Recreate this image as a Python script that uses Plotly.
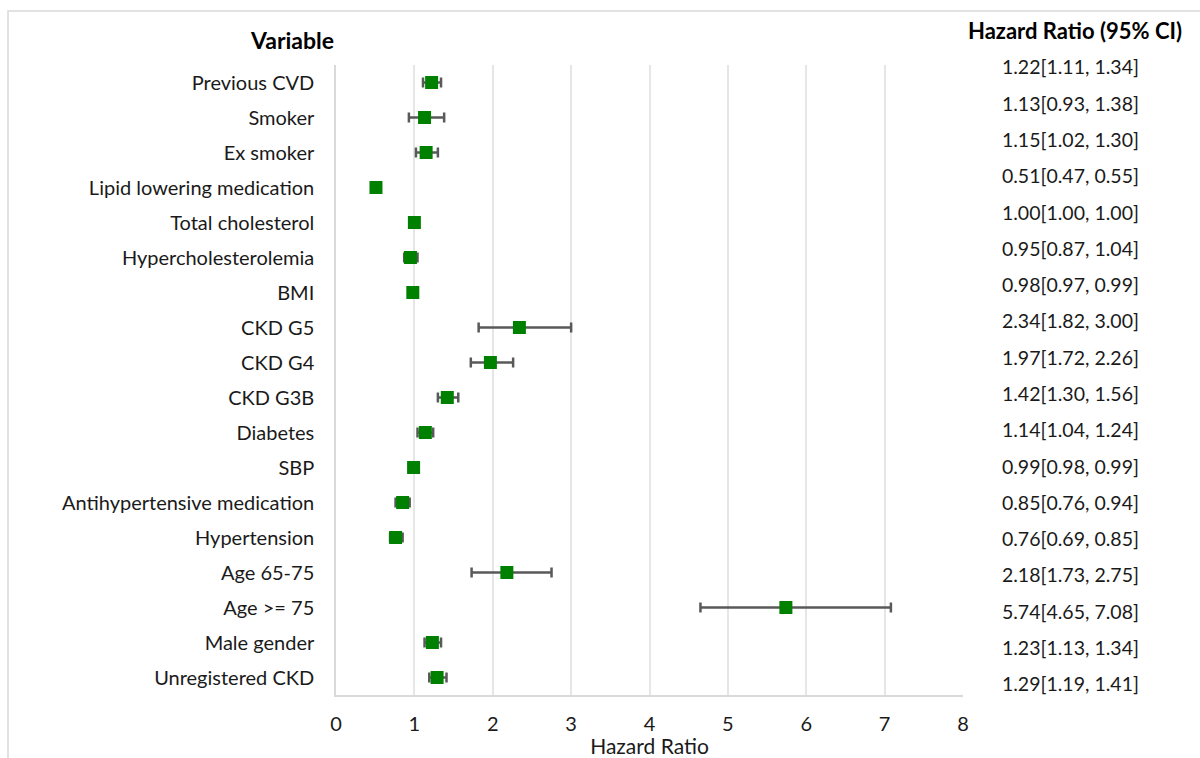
import plotly.graph_objects as go

variables = ["Previous CVD", "Smoker", "Ex smoker", "Lipid lowering medication",
             "Total cholesterol", "Hypercholesterolemia", "BMI", "CKD G5", "CKD G4",
             "CKD G3B", "Diabetes", "SBP", "Antihypertensive medication", "Hypertension",
             "Age 65-75", "Age >= 75", "Male gender", "Unregistered CKD"]
hr = [1.22, 1.13, 1.15, 0.51, 1.00, 0.95, 0.98, 2.34, 1.97, 1.42, 1.14, 0.99,
      0.85, 0.76, 2.18, 5.74, 1.23, 1.29]
ci_low = [1.11, 0.93, 1.02, 0.47, 1.00, 0.87, 0.97, 1.82, 1.72, 1.30, 1.04, 0.98,
          0.76, 0.69, 1.73, 4.65, 1.13, 1.19]
ci_high = [1.34, 1.38, 1.30, 0.55, 1.00, 1.04, 0.99, 3.00, 2.26, 1.56, 1.24, 0.99,
           0.94, 0.85, 2.75, 7.08, 1.34, 1.41]
x_ticks = [0, 1, 2, 3, 4, 5, 6, 7, 8]

FONT = "Lato"
GRID = "#e6e6e6"
AXIS = "#d9d9d9"

labels = [f"{h:.2f}[{l:.2f}, {u:.2f}]" for h, l, u in zip(hr, ci_low, ci_high)]
err_plus = [u - h for h, u in zip(hr, ci_high)]
err_minus = [h - l for h, l in zip(hr, ci_low)]

fig = go.Figure()
fig.add_trace(go.Scatter(
    x=hr, y=variables, mode="markers",
    marker=dict(symbol="square", size=13, color="#008000"),
    error_x=dict(type="data", symmetric=False, array=err_plus, arrayminus=err_minus,
                 color="#595959", thickness=2.5, width=5),
    showlegend=False, xaxis="x", yaxis="y",
))
fig.add_trace(go.Scatter(
    x=[0.5] * len(labels), y=list(range(len(labels))), mode="text", text=labels,
    textposition="middle center", cliponaxis=False,
    textfont=dict(family=FONT, size=19.5, color="#1a1a1a"),
    showlegend=False, xaxis="x2", yaxis="y2", hoverinfo="skip",
))

fig.update_layout(
    template="none",
    width=1200, height=758,
    margin=dict(l=336, r=10, t=65, b=63),
    paper_bgcolor="white", plot_bgcolor="white",
    font=dict(family=FONT, size=18, color="#1a1a1a"),
    xaxis=dict(domain=[0, 0.7342], range=[0, 8], tickvals=x_ticks,
               showgrid=True, gridcolor=GRID, gridwidth=1.5,
               showline=True, linecolor=AXIS, linewidth=1.5, mirror=False,
               zeroline=False, ticks="", ticklabelstandoff=10, automargin=False,
               tickfont=dict(family=FONT, size=20),
               title=dict(text="Hazard Ratio", standoff=2,
                          font=dict(family=FONT, size=21))),
    yaxis=dict(type="category", categoryorder="array", categoryarray=variables,
               range=[17.5, -0.5], showgrid=False, zeroline=False,
               showline=True, linecolor=AXIS, linewidth=1.5,
               ticks="", ticklabelstandoff=16, automargin=False,
               tickfont=dict(family=FONT, size=20)),
    xaxis2=dict(domain=[0.74, 0.98], range=[0, 1], visible=False, anchor="y2"),
    yaxis2=dict(range=[17.236, -0.124], visible=False, anchor="x2"),
    annotations=[
        dict(text="<b>Variable</b>", xref="paper", yref="paper",
             x=-0.0515, y=1.0397, showarrow=False, xanchor="center", yanchor="middle",
             font=dict(family=FONT, size=23, color="#000000")),
        dict(text="<b>Hazard Ratio (95% CI)</b>", xref="paper", yref="paper",
             x=0.8653, y=1.054, showarrow=False, xanchor="center", yanchor="middle",
             font=dict(family=FONT, size=22, color="#000000")),
    ],
    shapes=[dict(type="rect", xref="paper", yref="paper",
                 x0=(8 - 336) / 854, x1=(1205 - 336) / 854,
                 y0=(695 - 765) / 630, y1=(695 - 11) / 630,
                 line=dict(color=AXIS, width=1.5), layer="below")],
)

fig.write_html(
    "out.html",
    config={"displayModeBar": False},
    post_script="document.body.style.margin='0';document.body.style.overflow='hidden';",
)
